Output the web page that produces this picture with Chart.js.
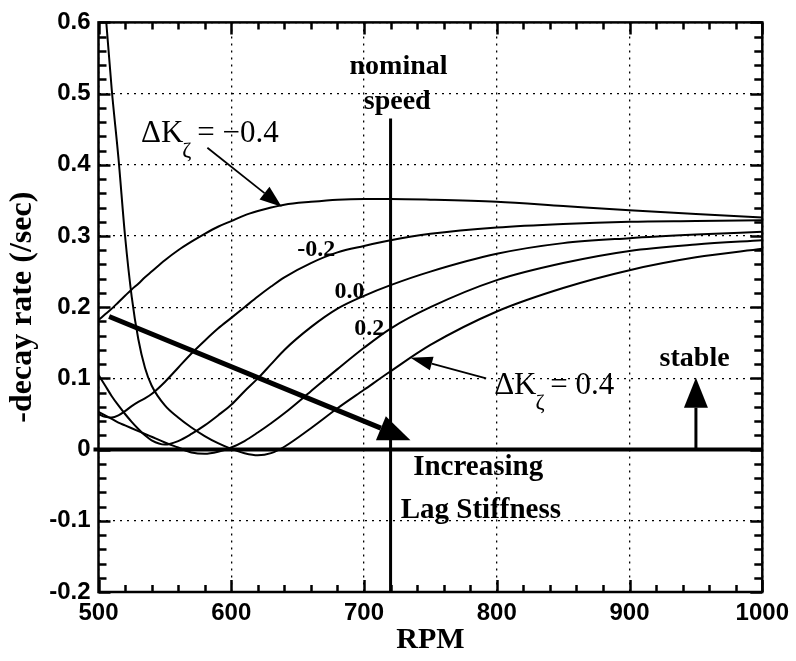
<!DOCTYPE html>
<html>
<head>
<meta charset="utf-8">
<script src="https://cdn.jsdelivr.net/npm/chart.js@4.4.0/dist/chart.umd.min.js"></script>
<style>
    html, body { margin: 0; padding: 0; background: #fff; }
    #wrap { width: 796px; height: 661px; }
</style>
</head>
<body>
<div id="wrap"><canvas id="lagChart" width="796" height="661"></canvas></div>
<script>
// RPM sample points shared by every curve
const rpm = [500, 505, 510, 515, 520, 525, 530, 535, 540, 550, 560, 570, 580, 590, 600,
             610, 620, 630, 640, 660, 680, 700, 720, 750, 800, 850, 900, 950, 1000];

// -decay rate (/sec) for each lag stiffness change
const dkMinus04 = [0.182, 0.190, 0.198, 0.207, 0.216, 0.225, 0.233, 0.242, 0.250, 0.266, 0.280, 0.292, 0.303, 0.313, 0.321,
                   0.329, 0.335, 0.340, 0.344, 0.348, 0.351, 0.352, 0.352, 0.351, 0.348, 0.342, 0.336, 0.331, 0.326];
const dkMinus02 = [0.050, 0.046, 0.045, 0.048, 0.054, 0.061, 0.067, 0.072, 0.078, 0.095, 0.115, 0.135, 0.153, 0.170, 0.185,
                   0.200, 0.215, 0.229, 0.242, 0.262, 0.277, 0.286, 0.294, 0.303, 0.312, 0.317, 0.320, 0.321, 0.322];
const dkZero    = [0.105, 0.090, 0.075, 0.062, 0.050, 0.039, 0.029, 0.020, 0.013, 0.007, 0.012, 0.022, 0.034, 0.048, 0.063,
                   0.082, 0.100, 0.120, 0.140, 0.172, 0.198, 0.216, 0.231, 0.250, 0.275, 0.290, 0.297, 0.302, 0.306];
const dkPlus02  = [0.053, 0.048, 0.043, 0.038, 0.034, 0.030, 0.026, 0.022, 0.018, 0.010, 0.003, -0.004, -0.006, -0.003, 0.003,
                   0.012, 0.024, 0.037, 0.051, 0.082, 0.113, 0.143, 0.170, 0.200, 0.238, 0.262, 0.279, 0.288, 0.294];
const dkPlus04  = [0.720, 0.620, 0.505, 0.410, 0.300, 0.215, 0.155, 0.115, 0.090, 0.062, 0.045, 0.031, 0.019, 0.009, 0.001,
                   -0.005, -0.008, -0.005, 0.004, 0.030, 0.058, 0.084, 0.110, 0.147, 0.194, 0.227, 0.252, 0.270, 0.282];

const xTicks = [500, 600, 700, 800, 900, 1000];
const yTicks = [-0.2, -0.1, 0, 0.1, 0.2, 0.3, 0.4, 0.5, 0.6];
const nominalRpm = 720;

const SERIF = '"Liberation Serif", "DejaVu Serif", serif';
const SANS = '"Liberation Sans", Arial, sans-serif';

function toPoints(ys) {
    return rpm.map((x, i) => ({ x: x, y: ys[i] }));
}

function curve(label, ys) {
    return {
        label: label,
        data: toPoints(ys),
        borderColor: '#000',
        borderWidth: 2,
        pointRadius: 0,
        fill: false,
        cubicInterpolationMode: 'monotone'
    };
}

function arrow(ctx, x1, y1, x2, y2, lw, headLen, headHalf) {
    let ang = Math.atan2(y2 - y1, x2 - x1);
    let bx = x2 - headLen * Math.cos(ang), by = y2 - headLen * Math.sin(ang);
    ctx.lineWidth = lw;
    ctx.beginPath();
    ctx.moveTo(x1, y1);
    ctx.lineTo(bx, by);
    ctx.stroke();
    ctx.beginPath();
    ctx.moveTo(x2, y2);
    ctx.lineTo(bx + headHalf * Math.sin(ang), by - headHalf * Math.cos(ang));
    ctx.lineTo(bx - headHalf * Math.sin(ang), by + headHalf * Math.cos(ang));
    ctx.closePath();
    ctx.fill();
}

function dkLabel(ctx, x, y, value) {
    ctx.textAlign = 'left';
    ctx.textBaseline = 'alphabetic';
    ctx.font = '31px ' + SERIF;
    ctx.fillText('\u0394K', x, y);
    let w = ctx.measureText('\u0394K').width;
    ctx.font = '22px ' + SERIF;
    ctx.fillText('\u03B6', x + w - 1, y + 15);
    let zw = ctx.measureText('\u03B6').width;
    ctx.font = '31px ' + SERIF;
    ctx.fillText(' = ' + value, x + w + zw - 3, y);
}

const decorations = {
    id: 'decorations',
    afterDraw(chart) {
        const ctx = chart.ctx;
        const xs = chart.scales.x, ys = chart.scales.y;
        const area = chart.chartArea;
        const px = v => xs.getPixelForValue(v);
        const py = v => ys.getPixelForValue(v);

        ctx.save();
        ctx.setLineDash([]);
        ctx.strokeStyle = '#000';
        ctx.fillStyle = '#000';
        ctx.lineCap = 'butt';

        // zero line
        ctx.lineWidth = 4;
        ctx.beginPath();
        ctx.moveTo(area.left - 5, py(0));
        ctx.lineTo(area.right, py(0));
        ctx.stroke();

        // nominal speed line
        ctx.lineWidth = 3;
        ctx.beginPath();
        ctx.moveTo(px(nominalRpm), py(0.465));
        ctx.lineTo(px(nominalRpm), area.bottom);
        ctx.stroke();

        // frame
        ctx.lineWidth = 2.5;
        ctx.strokeRect(area.left, area.top, area.right - area.left, area.bottom - area.top);

        // minor + major ticks, inward on all four sides
        ctx.beginPath();
        for (let k = 0; k <= 25; k++) {
            let v = 500 + k * 20;
            let len = (k % 5 === 0) ? 12 : 7;
            let x = Math.round(px(v)) + 0.5;
            ctx.moveTo(x, area.bottom); ctx.lineTo(x, area.bottom - len);
            ctx.moveTo(x, area.top); ctx.lineTo(x, area.top + len);
        }
        for (let i = -10; i <= 30; i++) {
            let y = Math.round(py(i * 0.02)) + 0.5;
            let len = (i % 5 === 0) ? 12 : 8;
            ctx.moveTo(area.left, y); ctx.lineTo(area.left + len, y);
            ctx.moveTo(area.right, y); ctx.lineTo(area.right - len, y);
        }
        ctx.lineWidth = 2.5;
        ctx.stroke();

        // increasing lag stiffness arrow
        arrow(ctx, px(508), py(0.187), px(735), py(0.013), 5, 32, 13);
        // stable arrow
        arrow(ctx, px(950), py(0), px(950), py(0.101), 3, 30, 12);
        // label arrows
        arrow(ctx, px(582), py(0.424), px(638), py(0.341), 1.8, 22, 8);
        arrow(ctx, px(792), py(0.100), px(735), py(0.129), 1.8, 22, 7);

        // texts
        ctx.textAlign = 'center';
        ctx.textBaseline = 'middle';
        ctx.font = 'bold 28px ' + SERIF;
        ctx.fillText('nominal', px(726), py(0.537));
        ctx.fillText('speed', px(725), py(0.488));
        ctx.fillText('stable', px(949), py(0.127));
        ctx.font = 'bold 29px ' + SERIF;
        ctx.fillText('Increasing', px(786), py(-0.025));
        ctx.fillText('Lag Stiffness', px(788), py(-0.086));
        ctx.font = 'bold 24px ' + SERIF;
        ctx.fillText('-0.2', px(664), py(0.281));
        ctx.fillText('0.0', px(689), py(0.221));
        ctx.fillText('0.2', px(704), py(0.170));

        dkLabel(ctx, px(532), py(0.432), '\u22120.4');
        dkLabel(ctx, px(798), py(0.078), '0.4');

        ctx.restore();
    }
};

const ctx = document.getElementById('lagChart').getContext('2d');
new Chart(ctx, {
    type: 'line',
    data: {
        datasets: [
            curve('-0.4', dkMinus04),
            curve('-0.2', dkMinus02),
            curve('0.0', dkZero),
            curve('0.2', dkPlus02),
            curve('0.4', dkPlus04)
        ]
    },
    options: {
        responsive: false,
        animation: false,
        events: [],
        layout: { padding: { top: 19, right: 28, bottom: 0, left: 0 } },
        plugins: { legend: { display: false }, tooltip: { enabled: false } },
        scales: {
            x: {
                type: 'linear',
                min: 500,
                max: 1000,
                afterFit: s => { s.height = 69; },
                afterBuildTicks: s => { s.ticks = xTicks.map(v => ({ value: v })); },
                ticks: {
                    color: '#000',
                    font: { family: SANS, size: 24, weight: 'bold' },
                    padding: 7,
                    maxRotation: 0,
                    callback: v => String(v)
                },
                grid: { color: '#000', lineWidth: 1.3, drawTicks: false },
                border: { display: false, dash: [2, 5] },
                title: {
                    display: true,
                    text: 'RPM',
                    color: '#000',
                    font: { family: SERIF, size: 30, weight: 'bold' },
                    padding: { top: 0, bottom: 3 }
                }
            },
            y: {
                min: -0.2,
                max: 0.6,
                afterFit: s => { s.width = 98.5; },
                afterBuildTicks: s => { s.ticks = yTicks.map(v => ({ value: v })); },
                ticks: {
                    color: '#000',
                    font: { family: SANS, size: 24, weight: 'bold' },
                    padding: 8,
                    callback: v => (Math.abs(v) < 1e-9 ? '0' : v.toFixed(1))
                },
                grid: { color: '#000', lineWidth: 1.3, drawTicks: false },
                border: { display: false, dash: [2, 5] },
                title: {
                    display: true,
                    text: '-decay rate (/sec)',
                    color: '#000',
                    font: { family: SERIF, size: 32, weight: 'bold' },
                    padding: { top: 4, bottom: 0 }
                }
            }
        }
    },
    plugins: [decorations]
});
</script>
</body>
</html>
